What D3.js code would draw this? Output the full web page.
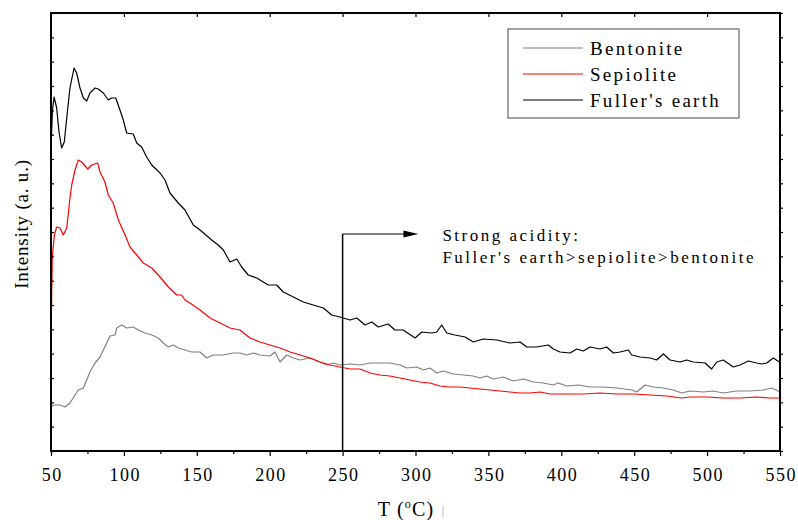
<!DOCTYPE html>
<html>
<head>
<meta charset="utf-8">
<script src="https://cdn.jsdelivr.net/npm/d3@7"></script>
<style>
body { margin: 0; background: #fff; }
text { font-family: "Liberation Serif", "Times New Roman", serif; fill: #000; }
</style>
</head>
<body>
<div class="chart"></div>
<script>
// temperature ticks (bottom axis)
const tempTicks = [50, 100, 150, 200, 250, 300, 350, 400, 450, 500, 550];
const tempMinor = [75, 125, 175, 225, 275, 325, 375, 425, 475, 525];

// [T (°C), intensity (a.u.)]
const bentonite = [
  [50.0,43],[51.6,46],[56.2,46],[59.6,44],[63.0,48],[66.5,56],[68.7,61],[72.2,63],[74.5,71],[76.7,79],
  [80.2,88],[83.6,94],[85.9,101],[88.2,108],[90.5,115],[93.9,116],[95.1,123],[98.5,126],[101.9,123],[106.4,124],
  [109.9,121],[114.5,118],[119.1,116],[123.6,113],[127.0,108],[130.5,104],[133.9,106],[137.3,103],[141.9,101],[146.5,99],
  [152.2,99],[156.8,93],[161.3,96],[168.2,96],[175.0,98],[179.6,98],[184.2,96],[188.8,98],[193.3,96],[200.2,95],
  [203.6,99],[207.1,89],[211.7,96],[216.2,93],[220.8,91],[227.6,93],[234.5,89],[239.1,86],[243.6,88],[248.2,86],
  [255.1,87],[261.9,86],[268.8,88],[275.6,88],[282.5,88],[289.4,86],[294.0,83],[300.8,84],[305.4,81],[309.9,83],
  [314.5,78],[319.1,80],[325.9,77],[332.8,76],[339.6,75],[344.2,73],[348.8,75],[353.4,72],[360.2,74],[367.1,70],
  [373.9,72],[380.8,69],[387.6,68],[394.5,66],[397.9,68],[403.7,65],[411.7,66],[419.7,64],[428.8,64],[438.0,63],
  [448.3,61],[451.7,59],[457.4,66],[463.1,64],[470.0,63],[476.8,61],[482.6,58],[488.3,60],[497.4,59],[504.3,60],
  [511.1,58],[520.3,60],[529.4,60],[538.6,61],[544.3,63],[550.0,59]
];

const sepiolite = [
  [50.0,113],[50.5,158],[50.9,194],[52.3,216],[53.9,224],[56.2,223],[58.4,216],[60.8,223],[61.9,238],[63.0,253],
  [64.2,266],[66.5,281],[68.7,291],[71.1,289],[72.8,286],[75.2,282],[77.9,286],[82.0,288],[83.6,279],[87.0,269],
  [89.3,256],[92.7,248],[96.2,231],[100.8,216],[104.2,204],[108.8,196],[113.3,188],[119.1,183],[124.8,174],[130.5,164],
  [136.2,156],[139.6,156],[141.9,151],[145.3,148],[152.2,141],[159.1,133],[165.9,128],[172.8,123],[179.6,121],[186.5,113],
  [193.3,109],[200.2,106],[207.1,103],[213.9,99],[220.8,96],[227.6,93],[234.5,89],[241.4,86],[248.2,84],[255.1,82],
  [261.9,82],[268.8,78],[275.6,76],[282.5,75],[289.4,73],[296.2,71],[303.1,69],[309.9,68],[316.8,65],[323.7,64],
  [330.5,64],[337.4,63],[344.2,62],[351.1,61],[358.0,60],[364.8,59],[371.7,58],[378.5,58],[385.4,59],[392.2,57],
  [403.7,57],[415.1,57],[426.5,58],[438.0,57],[449.4,57],[460.9,56],[472.3,55],[482.6,53],[488.3,54],[499.7,54],
  [511.1,53],[522.6,53],[534.0,54],[543.1,53],[550.0,53]
];

const fullers = [
  [50.0,301],[51.0,341],[52.1,354],[53.9,343],[55.5,319],[57.3,303],[59.1,309],[60.8,333],[63.0,363],[65.8,383],
  [67.6,378],[69.9,363],[72.2,353],[74.5,350],[76.7,358],[80.2,363],[82.4,362],[85.9,358],[89.3,351],[91.6,353],
  [94.4,353],[97.3,341],[99.6,331],[101.9,318],[106.4,317],[108.8,308],[112.2,304],[115.6,294],[119.1,286],[124.8,278],
  [128.2,271],[131.6,258],[137.3,248],[141.9,241],[147.6,226],[152.2,221],[160.2,211],[164.7,206],[168.2,201],[172.8,189],
  [177.4,192],[180.8,184],[185.3,176],[191.1,173],[199.0,166],[204.8,166],[209.3,159],[216.2,154],[223.0,149],[229.9,146],
  [236.8,143],[242.5,136],[248.2,134],[255.1,131],[259.7,133],[265.4,126],[270.0,129],[274.5,124],[281.3,127],[285.9,121],
  [291.6,121],[299.7,113],[304.3,119],[311.1,118],[314.5,119],[318.0,126],[321.4,118],[327.1,116],[334.0,114],[339.6,109],
  [346.5,112],[355.7,111],[364.8,108],[371.7,109],[376.3,104],[383.1,104],[391.1,106],[394.5,102],[399.1,99],[406.0,98],
  [410.6,102],[415.1,100],[419.7,104],[426.5,102],[431.1,104],[435.7,98],[440.3,99],[446.0,101],[448.3,96],[454.0,94],
  [460.9,93],[465.4,91],[470.0,97],[474.6,91],[481.4,89],[486.0,91],[490.5,89],[498.6,88],[503.1,82],[506.6,89],
  [511.1,91],[518.0,84],[522.6,86],[528.3,90],[534.0,88],[537.4,87],[540.9,88],[545.4,93],[549.5,89],[550.0,89]
];

const seriesNames = ["Bentonite", "Sepiolite", "Fuller's earth"];
const seriesColors = ["#808080", "#ff0000", "#000000"];

// annotation: arrow from T=250 to the right
const annoT = 250, annoI = 217, annoEndT = 302;
const annoLines = ["Strong acidity:", "Fuller's earth>sepiolite>bentonite"];

const margin = { top: 13, right: 18, bottom: 69, left: 51 };
const width = 798 - margin.left - margin.right;
const height = 520 - margin.top - margin.bottom;

const x = d3.scaleLinear().domain([50, 550]).range([0, width]);
const y = d3.scaleLinear().domain([0, 438]).range([height, 0]);
const yTicks = d3.range(19).map(i => i * 438 / 18);

const svg = d3.select(".chart")
  .append("svg")
  .attr("width", 798)
  .attr("height", 520)
  .append("g")
  .attr("transform", `translate(${margin.left},${margin.top})`);

// curves
const line = d3.line().x(d => x(d[0])).y(d => y(d[1]));
[bentonite, sepiolite, fullers].forEach((data, i) => {
  svg.append("path")
    .datum(data)
    .attr("fill", "none")
    .attr("stroke", seriesColors[i])
    .attr("stroke-width", 1.2)
    .attr("stroke-linejoin", "round")
    .attr("d", line);
});

// axes
const xAxis = d3.axisBottom(x).tickValues(tempTicks).tickSize(5).tickPadding(12);
svg.append("g")
  .attr("class", "x-axis")
  .attr("transform", `translate(0,${height})`)
  .call(xAxis)
  .call(g => g.select(".domain").remove())
  .selectAll("text")
  .style("font-size", "18px")
  .style("letter-spacing", "1.5px")
  .attr("dx", "0.75px")
  .style("font-family", '"Liberation Serif", serif');

svg.append("g")
  .attr("transform", `translate(0,${height})`)
  .call(d3.axisBottom(x).tickValues(tempMinor).tickSize(3).tickFormat(""))
  .call(g => g.select(".domain").remove());

svg.append("g")
  .call(d3.axisTop(x).tickValues(tempTicks.slice(1, -1)).tickSize(-4).tickFormat(""))
  .call(g => g.select(".domain").remove());

svg.append("g")
  .call(d3.axisLeft(y).tickValues(yTicks).tickSize(-3).tickFormat(""))
  .call(g => g.select(".domain").remove());

svg.append("g")
  .attr("transform", `translate(${width},0)`)
  .call(d3.axisRight(y).tickValues(yTicks).tickSize(3).tickFormat(""))
  .call(g => g.select(".domain").remove());

svg.selectAll(".tick line").attr("stroke", "#000").attr("stroke-width", 1.2);

// frame
svg.append("rect")
  .attr("width", width)
  .attr("height", height)
  .attr("fill", "none")
  .attr("stroke", "#000")
  .attr("stroke-width", 2);

// axis titles
const xTitle = svg.append("text")
  .attr("x", 406 - margin.left)
  .attr("y", height + 65)
  .attr("text-anchor", "middle")
  .style("font-size", "20px")
  .style("letter-spacing", "1.2px");
xTitle.append("tspan").text("T (");
xTitle.append("tspan").text("o").style("font-size", "12px").attr("dy", -8);
xTitle.append("tspan").text("C)").attr("dy", 8);

// small stray mark right of the title, as in the source figure
svg.append("line")
  .attr("x1", 443 - margin.left).attr("x2", 443 - margin.left)
  .attr("y1", height + 55).attr("y2", height + 66)
  .attr("stroke", "#bbb").attr("stroke-width", 1);

svg.append("text")
  .attr("transform", `translate(${28 - margin.left},${224 - margin.top}) rotate(-90)`)
  .attr("text-anchor", "middle")
  .style("font-size", "19px")
  .style("letter-spacing", "0.8px")
  .text("Intensity (a. u.)");

// annotation
svg.append("line")
  .attr("x1", x(annoT)).attr("x2", x(annoT))
  .attr("y1", y(annoI)).attr("y2", height)
  .attr("stroke", "#000").attr("stroke-width", 1.5);
svg.append("line")
  .attr("x1", x(annoT)).attr("x2", x(annoEndT) - 12)
  .attr("y1", y(annoI)).attr("y2", y(annoI))
  .attr("stroke", "#000").attr("stroke-width", 1.2);
svg.append("path")
  .attr("d", `M${x(annoEndT)},${y(annoI)} L${x(annoEndT) - 15},${y(annoI) - 3.5} L${x(annoEndT) - 15},${y(annoI) + 3.5} Z`)
  .attr("fill", "#000");

annoLines.forEach((t, i) => {
  svg.append("text")
    .attr("x", x(annoEndT) + 24)
    .attr("y", y(annoI) + 7 + i * 21.5)
    .style("font-size", "17px")
    .style("letter-spacing", "2.5px")
    .text(t);
});

// legend
const legend = svg.append("g").attr("transform", `translate(${508 - margin.left},${29 - margin.top})`);
legend.append("rect")
  .attr("width", 231)
  .attr("height", 89)
  .attr("fill", "#fff")
  .attr("stroke", "#666")
  .attr("stroke-width", 1.2);
seriesNames.forEach((name, i) => {
  const ly = 19 + i * 26;
  legend.append("line")
    .attr("x1", 15).attr("x2", 75)
    .attr("y1", ly).attr("y2", ly)
    .attr("stroke", seriesColors[i]).attr("stroke-width", 1.2);
  legend.append("text")
    .attr("x", 82)
    .attr("y", ly + 7)
    .style("font-size", "19px")
    .style("letter-spacing", "2.3px")
    .text(name);
});
</script>
</body>
</html>
